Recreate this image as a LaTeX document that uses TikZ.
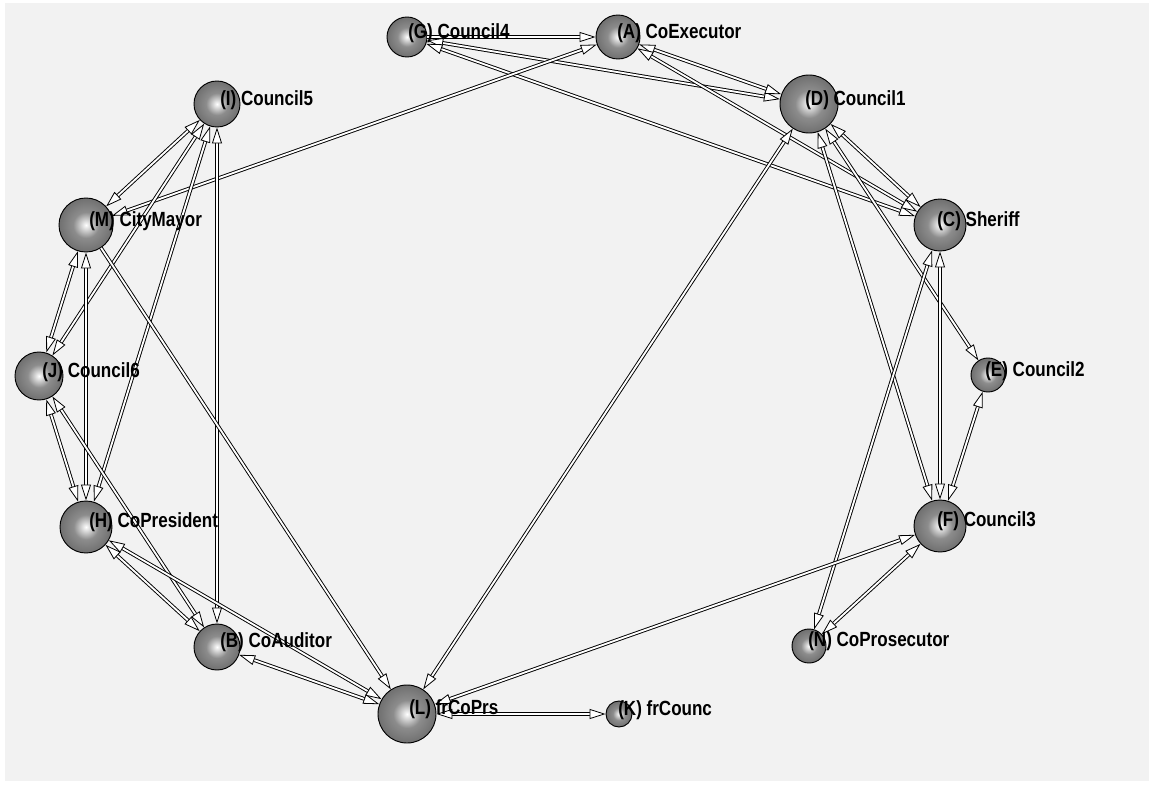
\documentclass[tikz,border=0pt]{standalone}
\usepackage{fontspec}
\setmainfont{Liberation Sans}[FakeStretch=0.83]
\usetikzlibrary{arrows.meta}
\definecolor{bg}{RGB}{242,242,242}
\pgfdeclareradialshading{sph}{\pgfpoint{0bp}{0bp}}{color(0bp)=(white); color(4bp)=(white!70!gray); color(12bp)=(gray!90); color(26bp)=(black!57); color(40bp)=(black!68); color(50bp)=(black!78)}
\tikzset{
  sphere/.style={circle, draw=black, line width=0.7pt, shading=sph, inner sep=0pt},
  lab/.style={anchor=west, inner sep=0pt, font=\fontsize{15.4pt}{17pt}\selectfont\bfseries, text=black},
  tip/.tip={Triangle[fill=white, length=12pt, width=7.5pt, line width=0.6pt]},
  edge/.style={draw=black, line width=0.7pt, double=white, double distance=1.4pt},
  uni/.style={edge, -tip},
  bi/.style={edge, tip-tip},
}
\newcommand\sph[4]{\node[sphere, minimum size=#4*1.5pt] (#1) at (#2,#3) {};}
\begin{document}
\begin{tikzpicture}[x=0.75pt, y=-0.75pt]
\useasboundingbox (0,0) rectangle (1153,785);
\fill[white] (0,0) rectangle (1153,785);
\fill[bg] (5,3) rectangle (1149,781);
% spheres (positions)
\sph{G}{407}{37}{20}
\sph{A}{618}{37}{22}
\sph{D}{809}{104}{29}
\sph{I}{217}{104}{23}
\sph{M}{86}{225}{27}
\sph{C}{940}{225}{26}
\sph{J}{39}{376}{24}
\sph{E}{988}{375}{17}
\sph{H}{86}{527}{26}
\sph{F}{940}{526}{26}
\sph{B}{217}{647}{23}
\sph{N}{809}{646}{17}
\sph{L}{407}{714}{29}
\sph{K}{619}{714}{13}
% edges
\draw[uni] (G) -- (A);
\draw[bi] (G) -- (D);
\draw[bi] (G) -- (C);
\draw[bi] (A) -- (D);
\draw[bi] (A) -- (C);
\draw[bi] (M) -- (A);
\draw[bi] (D) -- (C);
\draw[bi] (D) -- (E);
\draw[bi] (D) -- (F);
\draw[bi] (D) -- (L);
\draw[bi] (C) -- (F);
\draw[bi] (C) -- (N);
\draw[bi] (E) -- (F);
\draw[bi] (N) -- (F);
\draw[bi] (L) -- (F);
\draw[bi] (L) -- (K);
\draw[bi] (I) -- (B);
\draw[bi] (I) -- (M);
\draw[bi] (I) -- (J);
\draw[bi] (I) -- (H);
\draw[bi] (M) -- (J);
\draw[bi] (M) -- (H);
\draw[uni] (M) -- (L);
\draw[bi] (J) -- (H);
\draw[bi] (J) -- (B);
\draw[bi] (H) -- (B);
\draw[bi] (H) -- (L);
\draw[bi] (B) -- (L);
% labels
\node[lab] (lG) at (408,33) {(G) Council4};
\node[lab] (lA) at (617,33) {(A) CoExecutor};
\node[lab] (lD) at (805,100) {(D) Council1};
\node[lab] (lI) at (220,100) {(I) Council5};
\node[lab] (lM) at (89,221) {(M) CityMayor};
\node[lab] (lC) at (937,221) {(C) Sheriff};
\node[lab] (lJ) at (42,372) {(J) Council6};
\node[lab] (lE) at (985,371) {(E) Council2};
\node[lab] (lH) at (89,522) {(H) CoPresident};
\node[lab] (lF) at (937,521) {(F) Council3};
\node[lab] (lB) at (220,642) {(B) CoAuditor};
\node[lab] (lN) at (808,641) {(N) CoProsecutor};
\node[lab] (lL) at (409,709) {(L) frCoPrs};
\node[lab] (lK) at (618,710) {(K) frCounc};
\end{tikzpicture}
\end{document}
